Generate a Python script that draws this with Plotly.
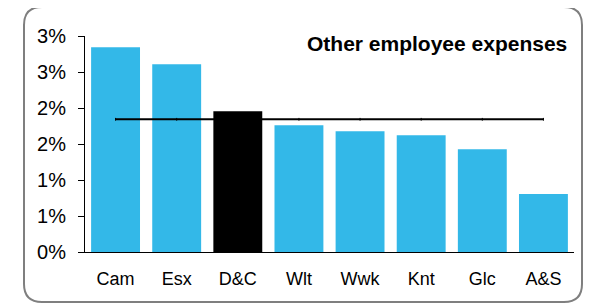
import plotly.graph_objects as go

categories = ["Cam", "Esx", "D&C", "Wlt", "Wwk", "Knt", "Glc", "A&S"]
values = [2.843, 2.607, 1.954, 1.76, 1.676, 1.621, 1.426, 0.807]
average = [1.843] * len(categories)
highlight = "D&C"
tick_vals = [0, 0.5, 1.0, 1.5, 2.0, 2.5, 3.0]
tick_text = ["0%", "1%", "1%", "2%", "2%", "3%", "3%"]
title_text = "Other employee expenses"

# page has an 8px body margin; figure coordinates are page coords minus 8
OFF = 8
W, H = 592 - OFF, 304 - OFF
L, R, T, B = 85 - OFF, 18, 36 - OFF, 52
pw, ph = W - L - R, H - T - B

colors = ["#000000" if c == highlight else "#33B8E8" for c in categories]

fig = go.Figure()
fig.add_trace(go.Bar(x=categories, y=values, marker=dict(color=colors, line=dict(width=0)),
                     width=0.8, showlegend=False))
fig.add_trace(go.Scatter(x=categories, y=average, mode="lines+markers",
                         line=dict(color="#000000", width=2),
                         marker=dict(symbol="line-ns", size=2, line=dict(color="#000000", width=1)),
                         showlegend=False))

def px(x):
    return (x - OFF - L) / pw

def py(y):
    return (H - B - (y - OFF)) / ph

# rounded border (page pixel coords)
x0, x1, y0, y1, r = 24, 582, 7, 302, 18
path = (f"M {px(x0+r)},{py(y0)} L {px(x1-r)},{py(y0)} "
        f"Q {px(x1)},{py(y0)} {px(x1)},{py(y0+r)} "
        f"L {px(x1)},{py(y1-r)} Q {px(x1)},{py(y1)} {px(x1-r)},{py(y1)} "
        f"L {px(x0+r)},{py(y1)} Q {px(x0)},{py(y1)} {px(x0)},{py(y1-r)} "
        f"L {px(x0)},{py(y0+r)} Q {px(x0)},{py(y0)} {px(x0+r)},{py(y0)} Z")

fig.update_layout(
    width=W, height=H,
    margin=dict(l=L, r=R, t=T, b=B, pad=0),
    paper_bgcolor="white", plot_bgcolor="white",
    font=dict(family="Liberation Sans, Arial, sans-serif", size=18, color="#000000"),
    bargap=0.2,
    xaxis=dict(showgrid=False, showline=True, linecolor="#000000", linewidth=1,
               ticks="", tickfont=dict(size=18), ticklabelstandoff=10, range=[-0.5, 7.5]),
    yaxis=dict(range=[0, 3], tickvals=tick_vals, ticktext=tick_text, showgrid=False,
               showline=True, linecolor="#000000", linewidth=1, ticks="outside",
               ticklen=6, tickcolor="#000000", tickfont=dict(size=20), zeroline=False,
               ticklabelstandoff=8),
    shapes=[dict(type="path", path=path, xref="paper", yref="paper",
                 line=dict(color="#7F7F7F", width=2), layer="above")],
    annotations=[dict(text=f"<b>{title_text}</b>", xref="paper", yref="paper",
                      x=px(569), y=py(43), xanchor="right", yanchor="middle",
                      showarrow=False, font=dict(size=21, color="#000000"))],
)

fig.write_html("out.html")
